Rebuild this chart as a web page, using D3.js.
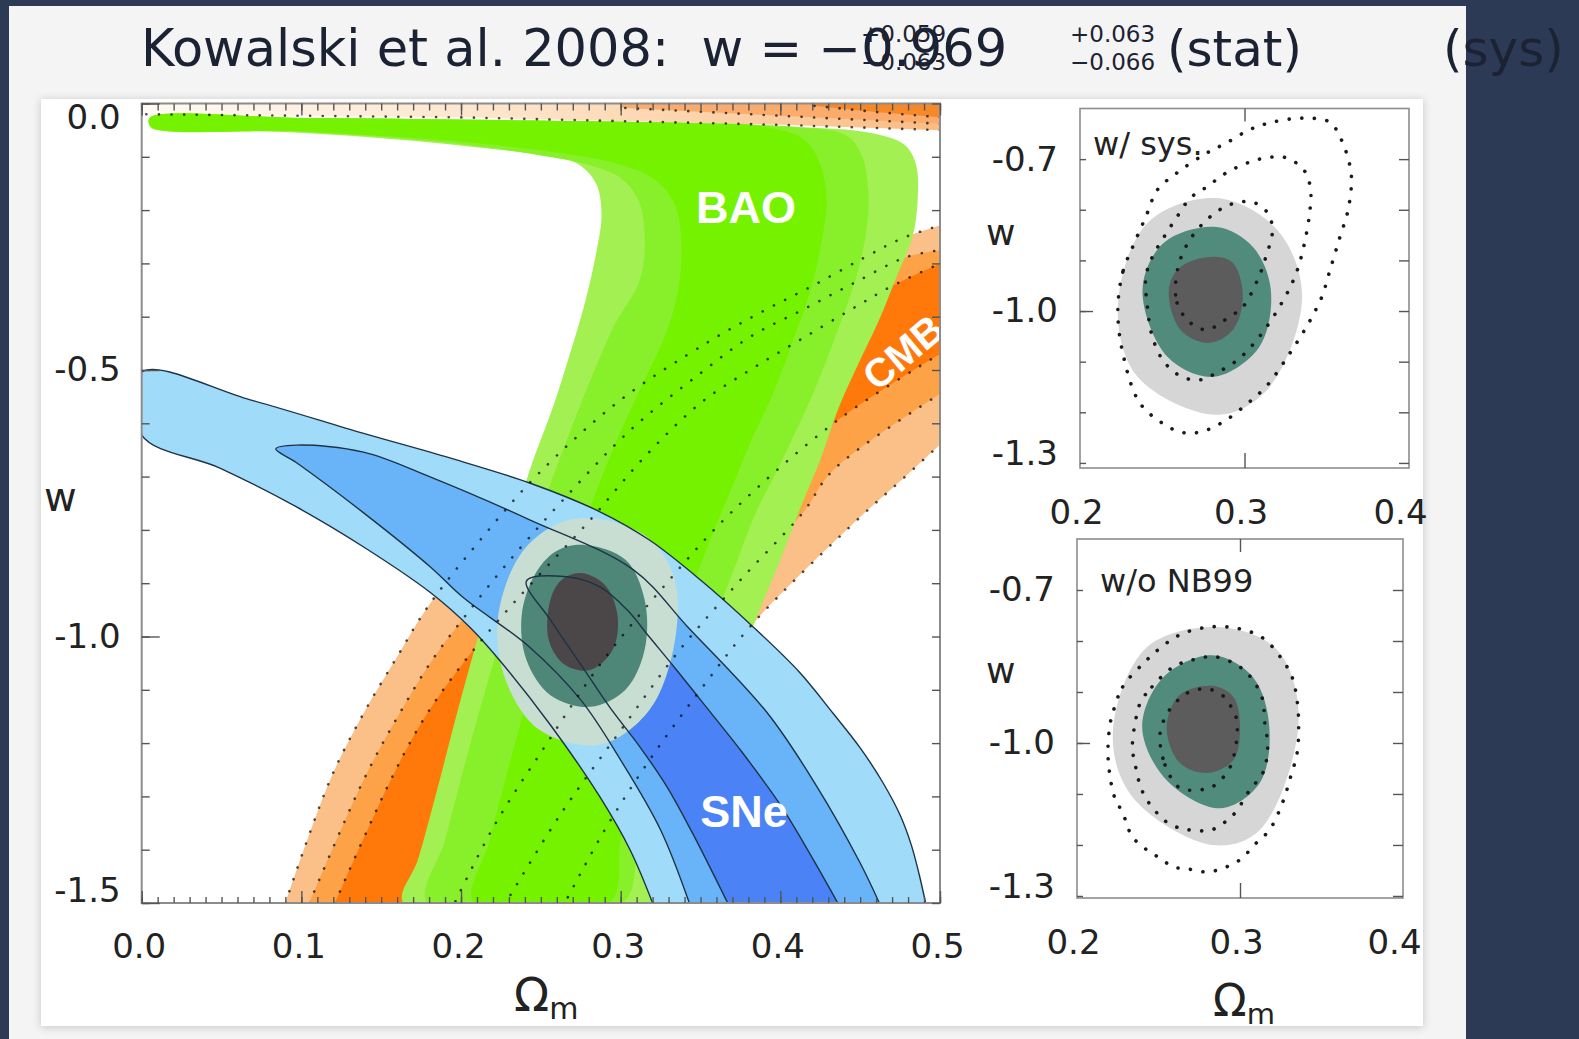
<!DOCTYPE html>
<html><head><meta charset="utf-8">
<script src="https://cdn.jsdelivr.net/npm/d3@7"></script>
<style>
html,body{margin:0;padding:0;background:#2d3a56;}
svg{display:block;}
</style></head><body>
<svg id="chart" width="1579" height="1039"></svg>
<script>
// ---------------- DATA (Omega_m, w) ----------------
const mainXTicks = [0,0.1,0.2,0.3,0.4,0.5];
const mainXLabels = ["0.0","0.1","0.2","0.3","0.4","0.5"];
const mainYTicks = [0,-0.5,-1.0,-1.5];
const mainYLabels = ["0.0","-0.5","-1.0","-1.5"];
const insetXTicks = [0.2,0.3,0.4];
const insetXLabels = ["0.2","0.3","0.4"];
const insetYTicks = [-0.7,-1.0,-1.3];
const insetYLabels = ["-0.7","-1.0","-1.3"];

// BAO contours (closed)
const baoOuter = [[0.005,-0.027],[0.099,-0.027],[0.224,-0.031],[0.350,-0.037],[0.412,-0.044],[0.456,-0.055],[0.478,-0.078],[0.485,-0.115],[0.486,-0.181],[0.483,-0.247],[0.472,-0.331],[0.461,-0.412],[0.448,-0.494],[0.436,-0.575],[0.425,-0.669],[0.412,-0.763],[0.400,-0.856],[0.387,-0.950],[0.374,-1.053],[0.361,-1.157],[0.350,-1.260],[0.339,-1.363],[0.330,-1.438],[0.322,-1.5],[0.164,-1.5],[0.173,-1.419],[0.185,-1.288],[0.198,-1.138],[0.212,-0.988],[0.228,-0.838],[0.243,-0.688],[0.258,-0.566],[0.268,-0.472],[0.278,-0.369],[0.285,-0.275],[0.288,-0.209],[0.285,-0.153],[0.276,-0.119],[0.262,-0.102],[0.224,-0.087],[0.162,-0.068],[0.099,-0.055],[0.037,-0.048],[0.006,-0.046]];
const baoMid = [[0.005,-0.027],[0.099,-0.027],[0.224,-0.031],[0.350,-0.037],[0.406,-0.044],[0.441,-0.059],[0.451,-0.097],[0.455,-0.162],[0.454,-0.237],[0.447,-0.331],[0.436,-0.425],[0.424,-0.519],[0.410,-0.613],[0.398,-0.688],[0.384,-0.772],[0.372,-0.866],[0.359,-0.969],[0.347,-1.082],[0.334,-1.194],[0.322,-1.307],[0.311,-1.401],[0.301,-1.5],[0.179,-1.5],[0.190,-1.382],[0.203,-1.232],[0.217,-1.082],[0.232,-0.931],[0.249,-0.772],[0.265,-0.641],[0.281,-0.519],[0.296,-0.416],[0.312,-0.331],[0.315,-0.247],[0.311,-0.181],[0.300,-0.140],[0.281,-0.116],[0.249,-0.097],[0.193,-0.074],[0.099,-0.053],[0.006,-0.044]];
const baoInner = [[0.005,-0.027],[0.099,-0.027],[0.224,-0.031],[0.350,-0.037],[0.387,-0.042],[0.415,-0.068],[0.425,-0.115],[0.429,-0.181],[0.426,-0.256],[0.419,-0.350],[0.408,-0.444],[0.395,-0.547],[0.382,-0.631],[0.369,-0.725],[0.356,-0.819],[0.343,-0.922],[0.331,-1.035],[0.318,-1.157],[0.308,-1.269],[0.300,-1.382],[0.293,-1.5],[0.208,-1.5],[0.218,-1.382],[0.231,-1.232],[0.245,-1.082],[0.261,-0.931],[0.278,-0.781],[0.295,-0.650],[0.312,-0.537],[0.328,-0.434],[0.336,-0.350],[0.338,-0.265],[0.334,-0.190],[0.322,-0.144],[0.300,-0.115],[0.262,-0.093],[0.193,-0.070],[0.099,-0.052],[0.006,-0.044]];

// CMB contours: upper-left edge (bottom -> right axis) and lower-right edge (right axis -> bottom)
const cmbLightUpper = [[0.090,-1.5],[0.118,-1.269],[0.139,-1.144],[0.160,-1.038],[0.179,-0.945],[0.212,-0.819],[0.249,-0.693],[0.300,-0.556],[0.354,-0.449],[0.387,-0.393],[0.419,-0.344],[0.452,-0.290],[0.477,-0.252],[0.501,-0.228]];
const cmbLightLower = [[0.501,-0.637],[0.476,-0.706],[0.450,-0.776],[0.383,-0.975],[0.350,-1.100],[0.318,-1.232],[0.290,-1.363],[0.265,-1.5]];
const cmbMidUpper = [[0.105,-1.5],[0.139,-1.269],[0.161,-1.147],[0.182,-1.044],[0.203,-0.960],[0.228,-0.866],[0.262,-0.750],[0.306,-0.613],[0.350,-0.506],[0.381,-0.438],[0.414,-0.387],[0.446,-0.337],[0.479,-0.288],[0.501,-0.275]];
const cmbMidLower = [[0.501,-0.543],[0.433,-0.688],[0.414,-0.768],[0.375,-0.894],[0.337,-1.025],[0.300,-1.176],[0.262,-1.335],[0.228,-1.5]];
const cmbDarkUpper = [[0.121,-1.5],[0.156,-1.269],[0.177,-1.153],[0.199,-1.059],[0.221,-0.978],[0.246,-0.894],[0.281,-0.781],[0.315,-0.663],[0.350,-0.562],[0.381,-0.500],[0.412,-0.444],[0.444,-0.387],[0.469,-0.344],[0.501,-0.299]];
const cmbDarkLower = [[0.501,-0.468],[0.436,-0.594],[0.369,-0.768],[0.325,-0.913],[0.287,-1.053],[0.253,-1.204],[0.221,-1.354],[0.196,-1.5]];
const cmbTopLight = [[0,0],[0.5,0],[0.5,-0.05],[0.4,-0.04],[0.2,-0.026],[0,-0.02]];
const cmbTopMid = [[0.3,0],[0.5,0],[0.5,-0.038],[0.42,-0.026],[0.3,-0.008]];
const cmbTopDark = [[0.42,0],[0.5,0],[0.5,-0.026],[0.46,-0.016],[0.42,-0.004]];

// SNe contours: upper and lower edges
const sneLightUpper = [[0,-0.504],[0.068,-0.556],[0.139,-0.619],[0.193,-0.665],[0.243,-0.712],[0.287,-0.766],[0.318,-0.819],[0.350,-0.894],[0.383,-0.982],[0.412,-1.067],[0.433,-1.144],[0.450,-1.209],[0.464,-1.273],[0.475,-1.335],[0.482,-1.391],[0.487,-1.447],[0.491,-1.5]];
const sneLightLower = [[0,-0.622],[0.049,-0.684],[0.097,-0.757],[0.140,-0.834],[0.181,-0.918],[0.206,-0.984],[0.224,-1.044],[0.256,-1.166],[0.287,-1.301],[0.306,-1.401],[0.320,-1.5]];
const sneMidUpper = [[0.084,-0.648],[0.097,-0.641],[0.139,-0.654],[0.181,-0.701],[0.243,-0.781],[0.308,-0.875],[0.342,-0.982],[0.392,-1.144],[0.423,-1.282],[0.450,-1.425],[0.462,-1.5]];
const sneMidLower = [[0.084,-0.648],[0.097,-0.674],[0.139,-0.768],[0.181,-0.870],[0.201,-0.926],[0.243,-1.020],[0.275,-1.119],[0.300,-1.232],[0.325,-1.363],[0.343,-1.5]];
const sneDarkUpper = [[0.241,-0.896],[0.266,-0.888],[0.287,-0.907],[0.304,-0.950],[0.318,-1.001],[0.334,-1.059],[0.350,-1.119],[0.375,-1.213],[0.400,-1.316],[0.419,-1.410],[0.436,-1.5]];
const sneDarkLower = [[0.241,-0.896],[0.256,-0.969],[0.276,-1.057],[0.293,-1.132],[0.312,-1.207],[0.329,-1.282],[0.345,-1.369],[0.367,-1.5]];

// Combined contours (main panel)
const combOuter = [[0.281,-0.778],[0.315,-0.810],[0.333,-0.885],[0.334,-1.007],[0.318,-1.138],[0.287,-1.203],[0.249,-1.175],[0.228,-1.082],[0.223,-0.969],[0.237,-0.847],[0.259,-0.791]];
const combTeal = [[0.276,-0.828],[0.303,-0.856],[0.315,-0.931],[0.315,-1.025],[0.303,-1.100],[0.281,-1.132],[0.256,-1.110],[0.241,-1.044],[0.238,-0.960],[0.246,-0.885],[0.259,-0.841]];
const combCore = [[0.275,-0.881],[0.290,-0.903],[0.298,-0.960],[0.295,-1.025],[0.281,-1.063],[0.265,-1.053],[0.255,-1.007],[0.256,-0.931],[0.263,-0.894]];

// Inset "w/ sys."
const sysGray = [[0.283,-0.777],[0.320,-0.840],[0.335,-0.972],[0.314,-1.155],[0.283,-1.205],[0.235,-1.130],[0.223,-0.992],[0.241,-0.826]];
const sysTeal = [[0.283,-0.834],[0.305,-0.873],[0.316,-0.958],[0.309,-1.071],[0.281,-1.130],[0.253,-1.090],[0.238,-0.958],[0.251,-0.865]];
const sysCore = [[0.281,-0.893],[0.293,-0.905],[0.299,-0.972],[0.293,-1.037],[0.278,-1.063],[0.261,-1.037],[0.254,-0.958],[0.261,-0.913]];
const sysDot1 = [[0.259,-0.923],[0.259,-0.984],[0.267,-1.023],[0.277,-1.037],[0.291,-1.011],[0.299,-0.992],[0.308,-0.938],[0.313,-0.893],[0.317,-0.840],[0.314,-0.806],[0.305,-0.785],[0.291,-0.790],[0.277,-0.820],[0.265,-0.869]];
const sysDot2 = [[0.240,-0.933],[0.241,-0.992],[0.244,-1.051],[0.251,-1.100],[0.262,-1.130],[0.273,-1.136],[0.283,-1.122],[0.296,-1.096],[0.309,-1.051],[0.323,-0.982],[0.331,-0.929],[0.336,-0.873],[0.340,-0.794],[0.340,-0.755],[0.336,-0.721],[0.326,-0.698],[0.316,-0.696],[0.303,-0.706],[0.289,-0.727],[0.277,-0.755],[0.267,-0.777],[0.259,-0.814],[0.251,-0.854],[0.244,-0.893]];
const sysDot3 = [[0.233,-0.866],[0.226,-0.923],[0.223,-0.998],[0.226,-1.083],[0.236,-1.180],[0.249,-1.219],[0.261,-1.239],[0.273,-1.239],[0.287,-1.219],[0.302,-1.182],[0.314,-1.146],[0.326,-1.091],[0.334,-1.051],[0.340,-1.018],[0.347,-0.972],[0.352,-0.919],[0.358,-0.854],[0.363,-0.800],[0.365,-0.735],[0.362,-0.688],[0.358,-0.656],[0.352,-0.627],[0.336,-0.619],[0.317,-0.627],[0.303,-0.642],[0.289,-0.668],[0.277,-0.688],[0.259,-0.727],[0.247,-0.761],[0.240,-0.814]];

// Inset "w/o NB99"
const nbGray = [[0.288,-0.773],[0.323,-0.818],[0.336,-0.955],[0.312,-1.171],[0.283,-1.200],[0.234,-1.106],[0.222,-0.980],[0.243,-0.812]];
const nbTeal = [[0.283,-0.828],[0.308,-0.871],[0.318,-0.969],[0.312,-1.079],[0.288,-1.128],[0.255,-1.073],[0.240,-0.969],[0.253,-0.871]];
const nbCore = [[0.283,-0.888],[0.296,-0.910],[0.300,-0.969],[0.296,-1.033],[0.280,-1.059],[0.263,-1.039],[0.255,-0.969],[0.263,-0.906]];
const nbDot1 = [[0.251,-0.980],[0.254,-1.043],[0.263,-1.088],[0.274,-1.092],[0.283,-1.086],[0.293,-1.053],[0.297,-1.014],[0.298,-0.955],[0.294,-0.926],[0.289,-0.906],[0.280,-0.894],[0.269,-0.900],[0.262,-0.916],[0.256,-0.939]];
const nbDot2 = [[0.239,-0.920],[0.246,-0.890],[0.259,-0.851],[0.271,-0.837],[0.285,-0.831],[0.300,-0.851],[0.308,-0.877],[0.314,-0.916],[0.315,-0.955],[0.317,-1.008],[0.314,-1.059],[0.306,-1.092],[0.297,-1.137],[0.290,-1.157],[0.282,-1.171],[0.271,-1.171],[0.263,-1.167],[0.255,-1.155],[0.249,-1.137],[0.243,-1.112],[0.239,-1.086],[0.236,-1.047],[0.234,-1.008],[0.236,-0.955]];
const nbDot3 = [[0.222,-0.941],[0.228,-0.890],[0.241,-0.843],[0.251,-0.814],[0.263,-0.788],[0.280,-0.773],[0.298,-0.775],[0.314,-0.794],[0.326,-0.837],[0.332,-0.871],[0.335,-0.916],[0.336,-0.969],[0.335,-1.020],[0.331,-1.067],[0.326,-1.118],[0.318,-1.171],[0.310,-1.196],[0.300,-1.229],[0.290,-1.245],[0.280,-1.253],[0.268,-1.247],[0.259,-1.243],[0.251,-1.226],[0.243,-1.210],[0.234,-1.184],[0.228,-1.137],[0.223,-1.106],[0.220,-1.059],[0.219,-1.020],[0.220,-0.969]];

// ---------------- DRAWING ----------------
const FONT = "'DejaVu Sans', sans-serif";
const BOLD = "'Liberation Sans', Arial, sans-serif";
const svg = d3.select("#chart");
const defs = svg.append("defs");
const filt = defs.append("filter").attr("id","shadow").attr("x","-5%").attr("y","-5%").attr("width","110%").attr("height","110%");
filt.append("feDropShadow").attr("dx",0).attr("dy",1).attr("stdDeviation",4).attr("flood-color","#000").attr("flood-opacity",0.2);

svg.append("rect").attr("width",1579).attr("height",1039).attr("fill","#2d3a56");
svg.append("rect").attr("x",9).attr("y",6).attr("width",1457).attr("height",1040).attr("fill","#f4f4f4");

// Title
const tcol = "#1b2233";
function ttext(str,x,y,size){
  svg.append("text").attr("x",x).attr("y",y).attr("font-family",FONT).attr("font-size",size)
    .attr("fill",tcol).style("white-space","pre").text(str);
}
ttext("Kowalski et al. 2008:  w = \u22120.969",141,66,51);
ttext("+0.059",861,42,23);
ttext("\u22120.063",861,70,23);
ttext("+0.063",1070,42,23);
ttext("\u22120.066",1070,70,23);
ttext("(stat)",1167,66,50);
ttext("(sys)",1443,66,50);

// figure box
svg.append("rect").attr("x",41).attr("y",99).attr("width",1382).attr("height",927).attr("fill","#ffffff").attr("filter","url(#shadow)");

// scales
const xM = d3.scaleLinear().domain([0,0.5]).range([141.7,940]);
const yM = d3.scaleLinear().domain([0,-1.5]).range([103.5,903]);
const xA = d3.scaleLinear().domain([0.2,0.4]).range([1080,1409]);
const yA = d3.scaleLinear().domain([-0.6,-1.31]).range([108.5,468]);
const xB = d3.scaleLinear().domain([0.2,0.4]).range([1077,1403]);
const yB = d3.scaleLinear().domain([-0.6,-1.304]).range([539,898]);

defs.append("clipPath").attr("id","clipMain").append("rect")
  .attr("x",xM(0)).attr("y",yM(0)).attr("width",xM(0.5)-xM(0)).attr("height",yM(-1.5)-yM(0));
const grad = defs.append("linearGradient").attr("id","cmbTopGrad").attr("gradientUnits","userSpaceOnUse")
  .attr("x1",xM(0)).attr("x2",xM(0.5)).attr("y1",0).attr("y2",0);
grad.append("stop").attr("offset","0").attr("stop-color","#fffaf4");
grad.append("stop").attr("offset","0.5").attr("stop-color","#fde2c6");
grad.append("stop").attr("offset","1").attr("stop-color","#fbbc82");

const lineM = d3.line().x(d=>xM(d[0])).y(d=>yM(d[1])).curve(d3.curveCatmullRom.alpha(0.5));
const loopM = d3.line().x(d=>xM(d[0])).y(d=>yM(d[1])).curve(d3.curveCatmullRomClosed.alpha(0.5));
const polyM = d3.line().x(d=>xM(d[0])).y(d=>yM(d[1]));
const band = (u,l) => lineM(u) + "L" + lineM(l).slice(1) + "Z";

const gMain = svg.append("g").attr("clip-path","url(#clipMain)");

// CMB top strip
[[cmbTopLight,"url(#cmbTopGrad)"],[cmbTopMid,"#fbac6c"],[cmbTopDark,"#f5892a"]].forEach(([d,c])=>{
  gMain.append("path").attr("d",polyM(d)+"Z").attr("fill",c);
});
// CMB band fills
[[cmbLightUpper,cmbLightLower,"#fbbf88"],[cmbMidUpper,cmbMidLower,"#fda247"],[cmbDarkUpper,cmbDarkLower,"#ff790a"]].forEach(([u,l,c])=>{
  gMain.append("path").attr("d",band(u,l)).attr("fill",c);
});
// BAO fills
[[baoOuter,"#a2f052"],[baoMid,"#88f02a"],[baoInner,"#74f200"]].forEach(([d,c])=>{
  gMain.append("path").attr("d",loopM(d)).attr("fill",c);
});
// SNe fills
const sneLightPath = sneLightLower.slice().reverse().concat(sneLightUpper);
const sneMidPath = sneMidLower.slice().reverse().concat(sneMidUpper.slice(1));
const sneDarkPath = sneDarkLower.slice().reverse().concat(sneDarkUpper.slice(1));
[[sneLightPath,"#a0dcfa"],[sneMidPath,"#69b4f8"],[sneDarkPath,"#4b82f5"]].forEach(([d,c])=>{
  gMain.append("path").attr("d",lineM(d)+"Z").attr("fill",c);
});
// combined fills
[[combOuter,"#c8ded2"],[combTeal,"#4e8778"],[combCore,"#4b4648"]].forEach(([d,c])=>{
  gMain.append("path").attr("d",loopM(d)).attr("fill",c);
});
// SNe outlines
[sneLightPath,sneMidPath,sneDarkPath].forEach(d=>{
  gMain.append("path").attr("d",lineM(d)).attr("fill","none").attr("stroke","#1d3346").attr("stroke-width",1.4);
});
// CMB dotted contours
const dotStyle = p => p.attr("fill","none").attr("stroke","#000").attr("stroke-opacity",0.7)
  .attr("stroke-width",2.6).attr("stroke-linecap","round").attr("stroke-dasharray","0.1 12.5");
[cmbLightUpper,cmbLightLower,cmbMidUpper,cmbMidLower,cmbDarkUpper,cmbDarkLower].forEach(d=>{
  gMain.append("path").attr("d",lineM(d)).call(dotStyle);
});
[cmbTopLight,cmbTopMid,cmbTopDark].forEach(d=>{
  gMain.append("path").attr("d",polyM(d.slice(2))).call(dotStyle);
});
// labels
gMain.append("text").attr("x",746).attr("y",223).attr("text-anchor","middle").attr("font-family",BOLD)
  .attr("font-weight","bold").attr("font-size",45).attr("fill","#fff").text("BAO");
gMain.append("text").attr("x",744).attr("y",827).attr("text-anchor","middle").attr("font-family",BOLD)
  .attr("font-weight","bold").attr("font-size",45).attr("fill","#fff").text("SNe");
gMain.append("text").attr("transform","translate(903,352) rotate(-40)").attr("text-anchor","middle").attr("dy","0.36em")
  .attr("font-family",BOLD).attr("font-weight","bold").attr("font-size",40).attr("fill","#fff").text("CMB");

// frame + axes
svg.append("rect").attr("x",xM(0)).attr("y",yM(0)).attr("width",xM(0.5)-xM(0)).attr("height",yM(-1.5)-yM(0))
  .attr("fill","none").attr("stroke","#8c8c8c").attr("stroke-width",2);

function styleAxis(g,size){
  g.select(".domain").remove();
  g.selectAll(".tick line").attr("stroke","#555").attr("stroke-width",1.4);
  g.selectAll(".tick text").attr("font-family",FONT).attr("font-size",size).attr("fill","#222");
}
function addAxis(axis,tx,ty,size){
  const g = svg.append("g").attr("transform",`translate(${tx},${ty})`).call(axis);
  styleAxis(g,size||34);
  return g;
}
// main axes
addAxis(d3.axisLeft(yM).tickValues(yM.ticks(15)).tickSize(-8).tickFormat(""), xM(0),0);
const gl = addAxis(d3.axisLeft(yM).tickValues(mainYTicks).tickSize(-18).tickPadding(21).tickFormat((d,i)=>mainYLabels[i]), xM(0),0);
gl.selectAll(".tick text").attr("transform",d=> d===0 ? "translate(0,14)" : (d===-1.5 ? "translate(0,-12)" : null));
addAxis(d3.axisRight(yM).tickValues(yM.ticks(15)).tickSize(-8).tickFormat(""), xM(0.5),0);
addAxis(d3.axisBottom(xM).tickValues(xM.ticks(50)).tickSize(-6).tickFormat(""), 0,yM(-1.5));
const gb = addAxis(d3.axisBottom(xM).tickValues(mainXTicks).tickSize(-12).tickPadding(31).tickFormat((d,i)=>mainXLabels[i]), 0,yM(-1.5));
gb.selectAll(".tick text").attr("dx",-3);
addAxis(d3.axisTop(xM).tickValues(xM.ticks(50)).tickSize(-7).tickFormat(""), 0,yM(0));
addAxis(d3.axisTop(xM).tickValues(mainXTicks).tickSize(-12).tickFormat(""), 0,yM(0));

svg.append("text").attr("x",44).attr("y",511).attr("font-family",FONT).attr("font-size",40).attr("fill","#222").text("w");
const om = svg.append("text").attr("x",514).attr("y",1011).attr("font-family",FONT).attr("font-size",46).attr("fill","#222").text("\u03A9");
om.append("tspan").attr("font-size",30).attr("dy",8).text("m");

// insets
function drawInset(xs, ys, layers, dots, tag, tagX, tagY, wBase, omegaY){
  const x0 = xs.range()[0], x1 = xs.range()[1], y0 = ys.range()[0], y1 = ys.range()[1];
  const loop = d3.line().x(d=>xs(d[0])).y(d=>ys(d[1])).curve(d3.curveCatmullRomClosed.alpha(0.5));
  svg.append("rect").attr("x",x0).attr("y",y0).attr("width",x1-x0).attr("height",y1-y0).attr("fill","#fff");
  layers.forEach(([d,c])=> svg.append("path").attr("d",loop(d)).attr("fill",c));
  dots.forEach(d=> svg.append("path").attr("d",loop(d)).attr("fill","none").attr("stroke","#1a1a1a")
    .attr("stroke-width",3.6).attr("stroke-linecap","round").attr("stroke-dasharray","0.1 12.5"));
  svg.append("rect").attr("x",x0).attr("y",y0).attr("width",x1-x0).attr("height",y1-y0)
    .attr("fill","none").attr("stroke","#8c8c8c").attr("stroke-width",1.6);
  const minor = ys.ticks(8).filter(v=>v<=-0.7);
  addAxis(d3.axisLeft(ys).tickValues(minor).tickSize(-6).tickFormat(""), x0,0);
  addAxis(d3.axisLeft(ys).tickValues([-1.0]).tickSize(-13).tickFormat(""), x0,0);
  const gy = addAxis(d3.axisLeft(ys).tickValues(insetYTicks).tickSize(0).tickPadding(22).tickFormat((d,i)=>insetYLabels[i]), x0,0);
  gy.selectAll(".tick text").attr("transform",d=> d===-1.3 ? "translate(0,-9)" : null);
  addAxis(d3.axisRight(ys).tickValues(minor).tickSize(-10).tickFormat(""), x1,0);
  addAxis(d3.axisTop(xs).tickValues([0.3]).tickSize(-13).tickFormat(""), 0,y0);
  const gx = addAxis(d3.axisBottom(xs).tickValues(insetXTicks).tickSize(-15).tickPadding(32).tickFormat((d,i)=>insetXLabels[i]), 0,y1);
  gx.selectAll(".tick line").attr("opacity",d=> d===0.3 ? 1 : 0);
  gx.selectAll(".tick text").attr("dx",d=> d===0.4 ? -9 : -4);
  svg.append("text").attr("x",tagX).attr("y",tagY).attr("font-family",FONT).attr("font-size",32).attr("fill","#222").text(tag);
  svg.append("text").attr("x",986).attr("y",wBase).attr("font-family",FONT).attr("font-size",36).attr("fill","#222").text("w");
  if(omegaY){
    const o = svg.append("text").attr("x",1213).attr("y",omegaY).attr("font-family",FONT).attr("font-size",44).attr("fill","#222").text("\u03A9");
    o.append("tspan").attr("font-size",29).attr("dy",8).text("m");
  }
}
drawInset(xA,yA,[[sysGray,"#d6d6d6"],[sysTeal,"#508b7b"],[sysCore,"#5c5c5c"]],[sysDot1,sysDot2,sysDot3],"w/ sys.",1093,155,245,null);
drawInset(xB,yB,[[nbGray,"#d6d6d6"],[nbTeal,"#508b7b"],[nbCore,"#5c5c5c"]],[nbDot1,nbDot2,nbDot3],"w/o NB99",1100,592,683,1016);
</script></body></html>
